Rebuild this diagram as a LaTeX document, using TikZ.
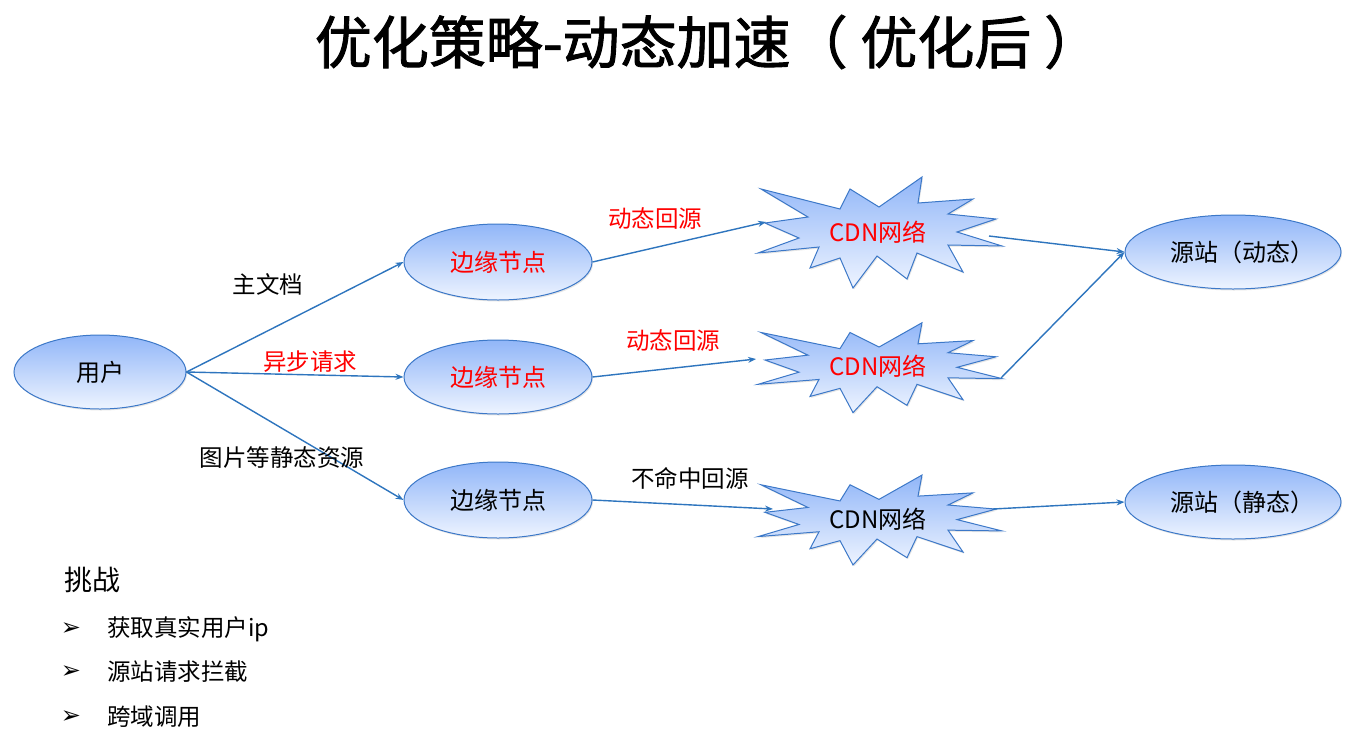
\documentclass[tikz,border=0pt]{standalone}
\usepackage{fontspec}
\setmainfont{Noto Sans CJK SC}
\newfontfamily\dvfont{DejaVu Sans}
\newfontfamily\titlefont{Noto Sans CJK SC}[FakeBold=1.6]
\usetikzlibrary{shapes.geometric,arrows.meta,shadows}

\definecolor{lineblue}{RGB}{46,117,190}
\definecolor{edgeblue}{RGB}{60,120,200}
\definecolor{topb}{RGB}{145,182,248}
\definecolor{botb}{RGB}{238,244,255}
\definecolor{txtred}{RGB}{255,0,0}

\tikzset{
  oval/.style={ellipse, draw=edgeblue, line width=1pt, top color=topb, bottom color=botb,
    inner sep=0pt, font=\fontsize{24}{24}\selectfont,
    drop shadow={opacity=0.2, shadow xshift=1pt, shadow yshift=-1.5pt}},
  burst/.style={draw=edgeblue, line width=1pt, top color=topb, bottom color=botb, line join=miter,
    drop shadow={opacity=0.2, shadow xshift=1pt, shadow yshift=-1.5pt}},
  lbl/.style={font=\fontsize{23.5}{23.5}\selectfont, inner sep=0pt},
  cdntxt/.style={font=\fontsize{24}{24}\selectfont, inner sep=0pt},
  bul/.style={inner sep=0pt, font=\dvfont\fontsize{24}{24}\selectfont},
  conn/.style={draw=lineblue, line width=1.4pt, -{Stealth[length=8pt,width=6pt]}},
}

\newcommand\cdnburst[3]{%
  \begin{scope}[shift={(#1,#2)}, yscale=#3]
    \path[burst] (-119,-43) -- (-40,-23) -- (-30,-43) -- (-1,-25) -- (42,-55) -- (38,-29)
      -- (93,-33) -- (68,-18) -- (116,-13) -- (77,0) -- (122,14) -- (68,13) -- (83,40)
      -- (37,21) -- (27,47) -- (-3,24) -- (-27,56) -- (-40,26) -- (-70,36) -- (-61,15)
      -- (-122,21) -- (-81,6) -- (-115,-9) -- (-72,-15) -- cycle;
  \end{scope}%
}

\begin{document}
\begin{tikzpicture}[x=1pt,y=-1pt]
\useasboundingbox[fill=white] (0,0) rectangle (1351,745);

% title
\node[inner sep=0pt, font=\titlefont\fontsize{57}{57}\selectfont] (title) at (708,42) {优化策略-动态加速（ 优化后 ）};

% ovals
\node[oval, minimum width=172pt, minimum height=74pt] (u) at (100,372) {用户};
\node[oval, minimum width=188pt, minimum height=76pt, text=txtred] (e1) at (498,262) {边缘节点};
\node[oval, minimum width=188pt, minimum height=74pt, text=txtred] (e2) at (498,377) {边缘节点};
\node[oval, minimum width=188pt, minimum height=76pt] (e3) at (498,500) {边缘节点};
\node[oval, minimum width=216pt, minimum height=74pt] (s1) at (1233,252) {\makebox[100pt][c]{\kern18pt 源站（动态）}};
\node[oval, minimum width=216pt, minimum height=74pt] (s2) at (1233,502) {\makebox[100pt][c]{\kern18pt 源站（静态）}};

% bursts
\cdnburst{880}{232}{1}
\cdnburst{880}{367.3}{0.81}
\cdnburst{880}{519.6}{0.81}
\node[cdntxt, text=txtred] (c1) at (878,232) {CDN网络};
\node[cdntxt, text=txtred] (c2) at (878,366) {CDN网络};
\node[cdntxt] (c3) at (878,519) {CDN网络};

\coordinate (c1in) at (766,222);
\coordinate (c1out) at (989,236);
\coordinate (c2in) at (756,359);
\coordinate (c2out) at (1001,378);
\coordinate (c3in) at (773,509);
\coordinate (c3out) at (993,509);

% connectors
\draw[conn] (u.east) -- (e1.west);
\draw[conn] (u.east) -- (e2.west);
\draw[conn] (u.east) -- (e3.west);
\draw[conn] (e1.east) -- (c1in);
\draw[conn] (e2.east) -- (c2in);
\draw[conn] (e3.east) -- (c3in);
\draw[conn] (c1out) -- (s1.west);
\draw[conn] (c2out) -- (s1.west);
\draw[conn] (c3out) -- (s2.west);

% labels
\node[lbl] (l1) at (268,284) {主文档};
\node[lbl, text=txtred] (l2) at (310,362) {异步请求};
\node[lbl] (l3) at (282,458) {图片等静态资源};
\node[lbl, text=txtred] (l4) at (655,219) {动态回源};
\node[lbl, text=txtred] (l5) at (673,341) {动态回源};
\node[lbl] (l6) at (690,478) {不命中回源};

% challenges
\node[inner sep=0pt, font=\fontsize{28}{28}\selectfont] (ch) at (92,580) {挑战};
\node[bul] (b1) at (71,629) {➢};
\node[bul] (b2) at (71,672) {➢};
\node[bul] (b3) at (71,717) {➢};
\node[lbl, anchor=west] (t1) at (107,629) {获取真实用户ip};
\node[lbl, anchor=west] (t2) at (107,672) {源站请求拦截};
\node[lbl, anchor=west] (t3) at (107,717) {跨域调用};
\end{tikzpicture}
\end{document}
